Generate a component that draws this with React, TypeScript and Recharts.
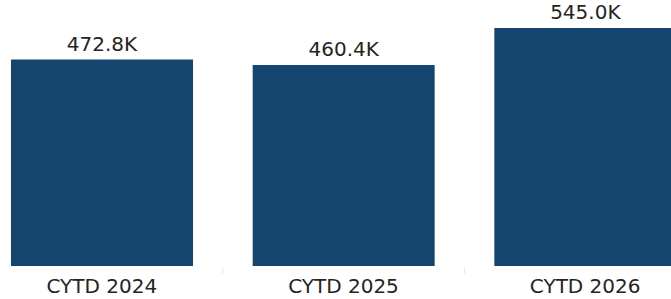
import { BarChart, Bar, XAxis, YAxis, LabelList } from 'recharts';

const categories = ['CYTD 2024', 'CYTD 2025', 'CYTD 2026'];
const values = [472800, 460400, 545000];

const BAR_COLOR = '#13456F';
const TEXT_COLOR = '#252423';
const FONT = 'DejaVu Sans, Verdana, sans-serif';
const HALF_BAND = 725 / categories.length / 2;

const data = categories.map((name, i) => ({ name, value: values[i] }));

const formatK = (v: number) => `${(v / 1000).toFixed(1)}K`;

function CategoryTick(props: any) {
  const { x, y, payload } = props;
  return (
    <g>
      <line x1={x + HALF_BAND} x2={x + HALF_BAND} y1={y + 1} y2={y + 8} stroke="#e9e9e9" strokeWidth={1} />
      <text x={x} y={y + 27} textAnchor="middle" fill={TEXT_COLOR} fontSize={20} fontFamily={FONT}>
        {payload.value}
      </text>
    </g>
  );
}

function ValueLabel(props: any) {
  const { x, y, width, value } = props;
  return (
    <text x={x + width / 2} y={y - 9} textAnchor="middle" fill={TEXT_COLOR} fontSize={20} fontFamily={FONT}>
      {formatK(value)}
    </text>
  );
}

export default function App() {
  return (
    <div style={{ position: 'absolute', left: -19, top: 0, width: 725, height: 299 }}>
      <BarChart width={725} height={299} data={data} margin={{ top: 28, right: 0, bottom: 0, left: 0 }}>
        <XAxis
          dataKey="name"
          axisLine={false}
          tickLine={false}
          tickSize={0}
          tickMargin={0}
          height={33}
          interval={0}
          tick={<CategoryTick />}
        />
        <YAxis hide domain={[0, 545000]} />
        <Bar dataKey="value" fill={BAR_COLOR} barSize={182} isAnimationActive={false}>
          <LabelList dataKey="value" content={<ValueLabel />} />
        </Bar>
      </BarChart>
    </div>
  );
}
